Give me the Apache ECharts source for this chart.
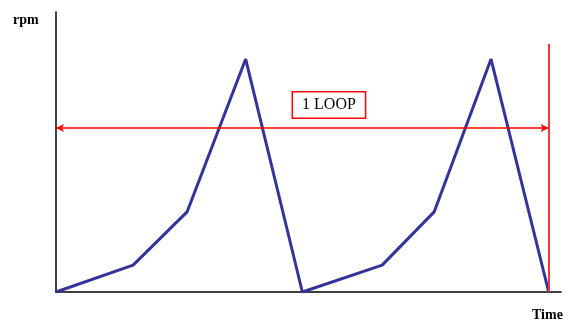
<!DOCTYPE html>
<html><head><meta charset="utf-8">
<script src="https://cdn.jsdelivr.net/npm/echarts@6/dist/echarts.min.js"></script>
<style>html,body{margin:0;padding:0;background:#fff}#c{width:572px;height:320px}</style>
</head><body><div id="c"></div>
<script>
const timePoints = [0, 31.3, 53.2, 77, 100, 132.4, 153.5, 176.6, 200];
const rpmValues = [0, 9.6, 28.6, 83.2, 0, 9.6, 28.6, 83.2, 0];
const loopStart = 0, loopEnd = 200, arrowLevel = 58.6, loopLineTop = 88.6;
const loopLabel = '1 LOOP';
const yLabel = 'rpm', xLabel = 'Time';

const chart = echarts.init(document.getElementById('c'));
const serif = '"Liberation Serif", "DejaVu Serif", serif';
chart.setOption({
  animation: false,
  grid: {left: 56, right: 11, top: 12, bottom: 28},
  xAxis: {type: 'value', min: 0, max: 205,
    axisLine: {show: true, lineStyle: {color: '#000', width: 1.5}},
    axisTick: {show: false}, axisLabel: {show: false}, splitLine: {show: false}},
  yAxis: {type: 'value', min: 0, max: 100,
    axisLine: {show: true, lineStyle: {color: '#000', width: 1.5}},
    axisTick: {show: false}, axisLabel: {show: false}, splitLine: {show: false}},
  graphic: [
    {type: 'text', left: 13, top: 13, style: {text: yLabel, font: 'bold 14px ' + serif, fill: '#000'}},
    {type: 'text', left: 532, top: 308, style: {text: xLabel, font: 'bold 14px ' + serif, fill: '#000'}}
  ],
  series: [{
    type: 'line',
    data: timePoints.map((t, i) => [t, rpmValues[i]]),
    symbol: 'none',
    lineStyle: {color: '#333399', width: 3},
    markLine: {
      silent: true,
      label: {show: false},
      data: [
        [{coord: [loopStart, arrowLevel], symbol: 'arrow', symbolSize: [6, 8], lineStyle: {color: '#ff0000', width: 1.5, type: 'solid'}},
         {coord: [loopEnd, arrowLevel], symbol: 'arrow', symbolSize: [6, 8]}],
        [{coord: [loopEnd, 0], symbol: 'none', lineStyle: {color: '#f03a3a', width: 2, type: 'solid'}},
         {coord: [loopEnd, loopLineTop], symbol: 'none'}]
      ]
    },
    markPoint: {
      silent: true,
      symbol: 'rect', symbolSize: 1,
      itemStyle: {color: 'rgba(0,0,0,0)'},
      data: [{coord: [110.8, 66.8], value: loopLabel,
        label: {show: true, position: 'inside', formatter: loopLabel,
          color: '#000', fontFamily: serif, fontSize: 16,
          backgroundColor: '#fff', borderColor: '#ff0000', borderWidth: 1.5,
          padding: [5, 9, 4, 9]}}]
    }
  }]
});
</script></body></html>
